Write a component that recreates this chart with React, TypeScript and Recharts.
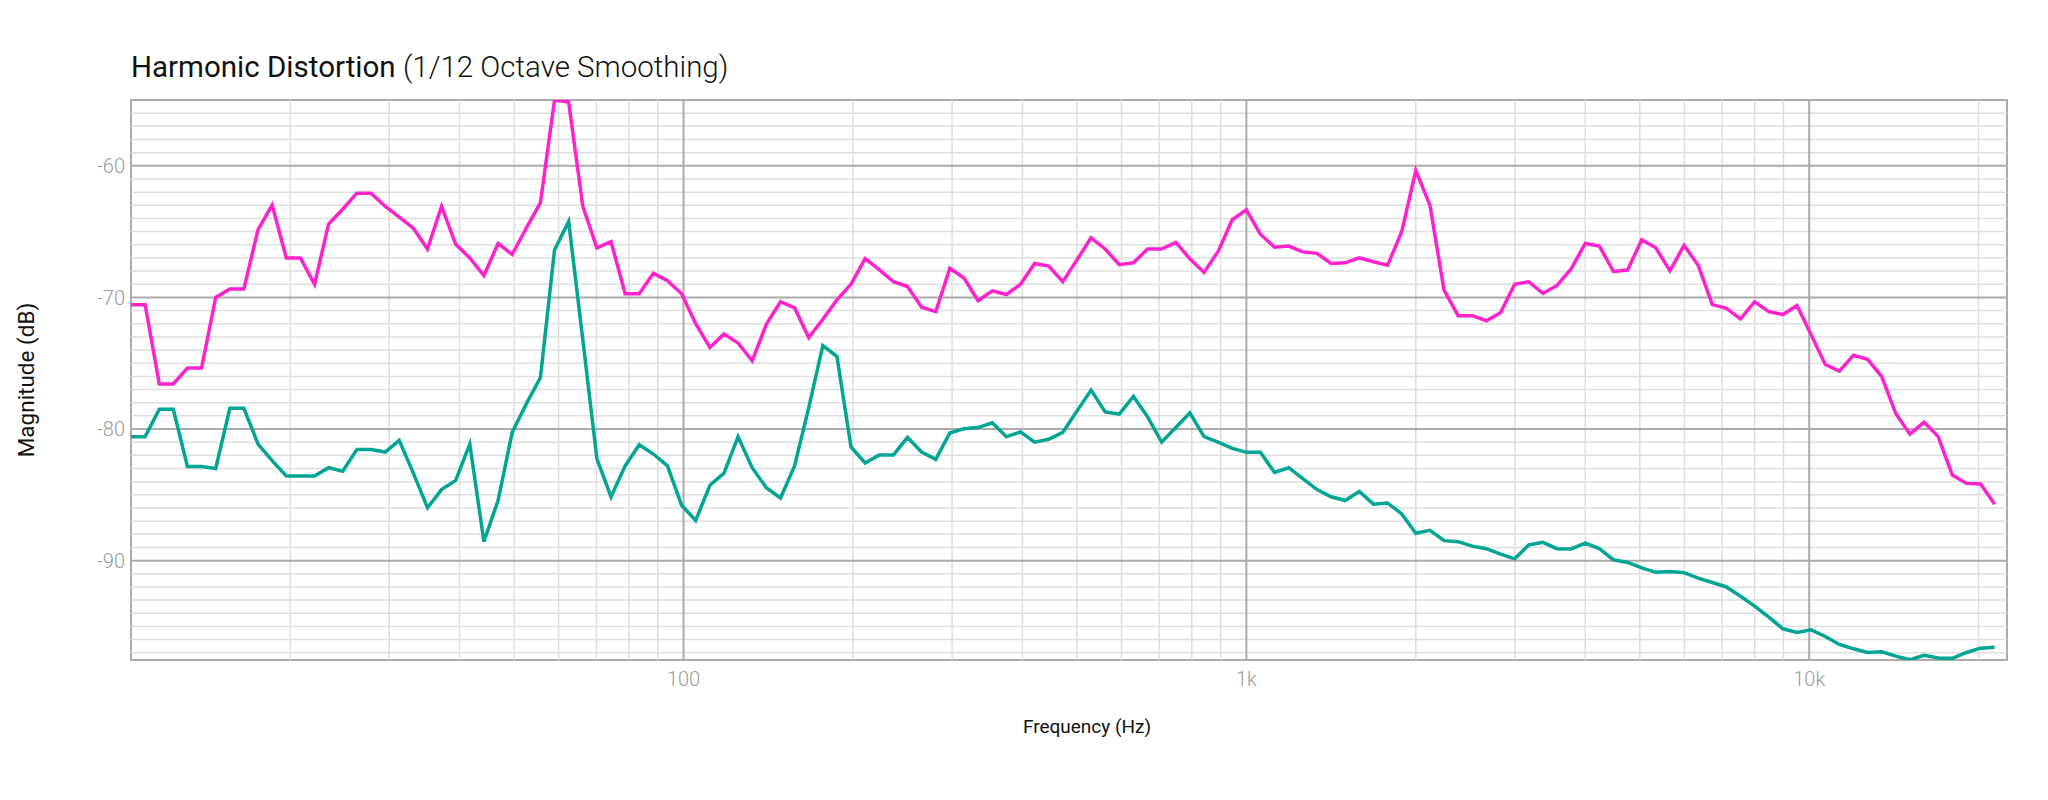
import { LineChart, Line, XAxis, YAxis, ReferenceLine, ReferenceArea } from 'recharts';

// 1/12 octave centre frequencies (Hz)
const FREQS = [
  10.43, 11.05, 11.71, 12.4, 13.14, 13.92, 14.75,
  15.63, 16.55, 17.54, 18.58, 19.69, 20.86, 22.1, 23.41, 24.8, 26.28, 27.84, 29.5,
  31.25, 33.11, 35.08, 37.16, 39.37, 41.71, 44.19, 46.82, 49.61, 52.56, 55.68, 58.99,
  62.5, 66.22, 70.15, 74.33, 78.75, 83.43, 88.39, 93.64, 99.21, 105.1, 111.4, 118.0,
  125, 132.4, 140.3, 148.7, 157.5, 166.9, 176.8, 187.3, 198.4, 210.2, 222.7, 236.0,
  250, 264.9, 280.6, 297.3, 315.0, 333.7, 353.6, 374.6, 396.9, 420.4, 445.4, 471.9,
  500, 529.7, 561.2, 594.6, 630.0, 667.4, 707.1, 749.2, 793.7, 840.9, 890.9, 943.9,
  1000, 1059, 1122, 1189, 1260, 1335, 1414, 1498, 1587, 1682, 1782, 1888,
  2000, 2119, 2245, 2378, 2520, 2670, 2828, 2997, 3175, 3364, 3564, 3775,
  4000, 4238, 4490, 4757, 5040, 5339, 5657, 5993, 6350, 6727, 7127, 7551,
  8000, 8476, 8980, 9514, 10079, 10679, 11314, 11986, 12699, 13454, 14254, 15102,
  16000, 16951, 17959, 19027, 20159, 21357,
];

// magenta trace (dB)
const PINK = [
  -70.55, -70.55, -76.57, -76.57, -75.37, -75.37, -70.0, -69.36, -69.36, -64.85,
  -62.99, -67.0, -67.0, -69.0, -64.43, -63.3, -62.08, -62.08, -63.07, -63.9,
  -64.74, -66.32, -63.07, -65.96, -67.0, -68.34, -65.9, -66.73, -64.74, -62.8,
  -55.0, -55.15, -63.07, -66.23, -65.76, -69.72, -69.72, -68.17, -68.73, -69.72,
  -72.0, -73.8, -72.77, -73.46, -74.82, -72.05, -70.33, -70.8, -73.05, -71.66,
  -70.19, -69.0, -67.06, -67.89, -68.81, -69.17, -70.75, -71.08, -67.78, -68.53,
  -70.25, -69.5, -69.78, -69.0, -67.42, -67.62, -68.81, -67.15, -65.48, -66.32,
  -67.51, -67.37, -66.32, -66.32, -65.82, -67.06, -68.1, -66.5, -64.1, -63.35,
  -65.2, -66.18, -66.1, -66.54, -66.65, -67.42, -67.37, -67.0, -67.29, -67.56,
  -65.01, -60.36, -62.99, -69.45, -71.39, -71.39, -71.77, -71.16, -69.0, -68.81,
  -69.7, -69.09, -67.84, -65.9, -66.1, -68.03, -67.92, -65.62, -66.23, -67.98,
  -66.04, -67.56, -70.55, -70.83, -71.63, -70.33, -71.08, -71.3, -70.61, -72.83,
  -75.1, -75.6, -74.4, -74.71, -76.01, -78.84, -80.39, -79.47, -80.58, -83.49,
  -84.13, -84.18, -85.71,
];

// teal trace (dB)
const TEAL = [
  -80.58, -80.58, -78.5, -78.5, -82.85, -82.85, -83.0, -78.42, -78.42, -81.14,
  -82.4, -83.57, -83.57, -83.57, -82.94, -83.2, -81.55, -81.55, -81.75, -80.86,
  -83.35, -85.98, -84.6, -83.9, -81.14, -88.56, -85.43, -80.25, -78.09, -76.09,
  -66.4, -64.24, -73.2, -82.24, -85.15, -82.8, -81.19, -81.9, -82.8, -85.79,
  -86.95, -84.27, -83.35, -80.58, -82.94, -84.46, -85.24, -82.8, -78.37, -73.66,
  -74.49, -81.36, -82.58, -81.97, -81.97, -80.64, -81.75, -82.3, -80.3, -79.97,
  -79.89, -79.53, -80.58, -80.22, -81.0, -80.78, -80.25, -78.64, -77.04, -78.7,
  -78.86, -77.53, -79.06, -81.0, -79.89, -78.78, -80.58, -81.0, -81.47, -81.77,
  -81.77, -83.3, -82.94, -83.77, -84.6, -85.15, -85.43, -84.74, -85.71, -85.62,
  -86.45, -87.92, -87.7, -88.48, -88.56, -88.9, -89.09, -89.5, -89.86, -88.81,
  -88.61, -89.09, -89.11, -88.67, -89.09, -89.94, -90.14, -90.55, -90.89, -90.83,
  -90.91, -91.33, -91.66, -92.0, -92.71, -93.46, -94.29, -95.18, -95.46, -95.26,
  -95.76, -96.37, -96.7, -96.98, -96.93, -97.26, -97.53, -97.2, -97.4, -97.42,
  -96.98, -96.65, -96.59,
];

const X_DOMAIN = [10.43, 22460];
const Y_DOMAIN = [-97.55, -55];

const X_TICKS = [100, 1000, 10000];
const X_TICK_LABELS: Record<number, string> = { 100: '100', 1000: '1k', 10000: '10k' };
const X_MINOR = [
  20, 30, 40, 50, 60, 70, 80, 90,
  200, 300, 400, 500, 600, 700, 800, 900,
  2000, 3000, 4000, 5000, 6000, 7000, 8000, 9000,
  20000,
];
const Y_TICKS = [-90, -80, -70, -60];
const Y_MINOR = [
  -97, -96, -95, -94, -93, -92, -91, -89, -88, -87, -86, -85, -84, -83, -82, -81,
  -79, -78, -77, -76, -75, -74, -73, -72, -71, -69, -68, -67, -66, -65, -64, -63,
  -62, -61, -59, -58, -57, -56,
];

const data = FREQS.map((f, i) => ({ f, pink: PINK[i], teal: TEAL[i] }));

const FONT = 'Roboto, "Liberation Sans", Arial, sans-serif';
const MINOR = '#dedede';
const MAJOR = '#ababab';

export default function App() {
  return (
    <div style={{ position: 'absolute', left: 0, top: 0, width: 2048, height: 800, background: '#fff' }}>
      <LineChart
        width={2048}
        height={800}
        data={data}
        margin={{ top: 100, right: 41, bottom: 0, left: 0 }}
        style={{ fontFamily: FONT }}
      >
        <XAxis
          dataKey="f"
          type="number"
          scale="log"
          domain={X_DOMAIN}
          allowDataOverflow
          ticks={X_TICKS}
          tickFormatter={(v: number) => X_TICK_LABELS[v] ?? String(v)}
          axisLine={false}
          tickLine={false}
          tickSize={0}
          tickMargin={12}
          height={140}
          tick={{ fill: '#9a9a9a', fontSize: 20, fontWeight: 300 }}
        />
        <YAxis
          type="number"
          domain={Y_DOMAIN}
          allowDataOverflow
          ticks={Y_TICKS}
          axisLine={false}
          tickLine={false}
          tickSize={0}
          tickMargin={6}
          width={131}
          tick={{ fill: '#9a9a9a', fontSize: 20, fontWeight: 300 }}
        />

        {/* minor grid */}
        {Y_MINOR.map((v) => (
          <ReferenceLine key={'ym' + v} y={v} stroke={MINOR} strokeWidth={1.5} />
        ))}
        {X_MINOR.map((v) => (
          <ReferenceLine key={'xm' + v} x={v} stroke={MINOR} strokeWidth={1.5} />
        ))}
        {/* major grid */}
        {Y_TICKS.map((v) => (
          <ReferenceLine key={'yM' + v} y={v} stroke={MAJOR} strokeWidth={2} />
        ))}
        {X_TICKS.map((v) => (
          <ReferenceLine key={'xM' + v} x={v} stroke={MAJOR} strokeWidth={2} />
        ))}
        <ReferenceArea
          x1={X_DOMAIN[0]}
          x2={X_DOMAIN[1]}
          y1={Y_DOMAIN[0]}
          y2={Y_DOMAIN[1]}
          fill="none"
          fillOpacity={0}
          stroke={MAJOR}
          strokeWidth={2}
        />

        <Line
          type="linear"
          dataKey="teal"
          stroke="#00a693"
          strokeWidth={3.5}
          dot={false}
          activeDot={false}
          isAnimationActive={false}
        />
        <Line
          type="linear"
          dataKey="pink"
          stroke="#ff22cc"
          strokeWidth={3.5}
          dot={false}
          activeDot={false}
          isAnimationActive={false}
        />
      </LineChart>

      <svg
        width={2048}
        height={800}
        style={{ position: 'absolute', left: 0, top: 0, pointerEvents: 'none', fontFamily: FONT }}
      >
        <text x={131} y={77} fontSize={29.5} fill="#111">
          Harmonic Distortion{' '}
          <tspan fontWeight={300}>(1/12 Octave Smoothing)</tspan>
        </text>
        <text x={1087} y={726} fontSize={19} fill="#111" textAnchor="middle" dominantBaseline="central">
          Frequency (Hz)
        </text>
        <text
          x={26}
          y={380}
          fontSize={22.5}
          fill="#111"
          textAnchor="middle"
          dominantBaseline="central"
          transform="rotate(-90 26 380)"
        >
          Magnitude (dB)
        </text>
      </svg>
    </div>
  );
}
